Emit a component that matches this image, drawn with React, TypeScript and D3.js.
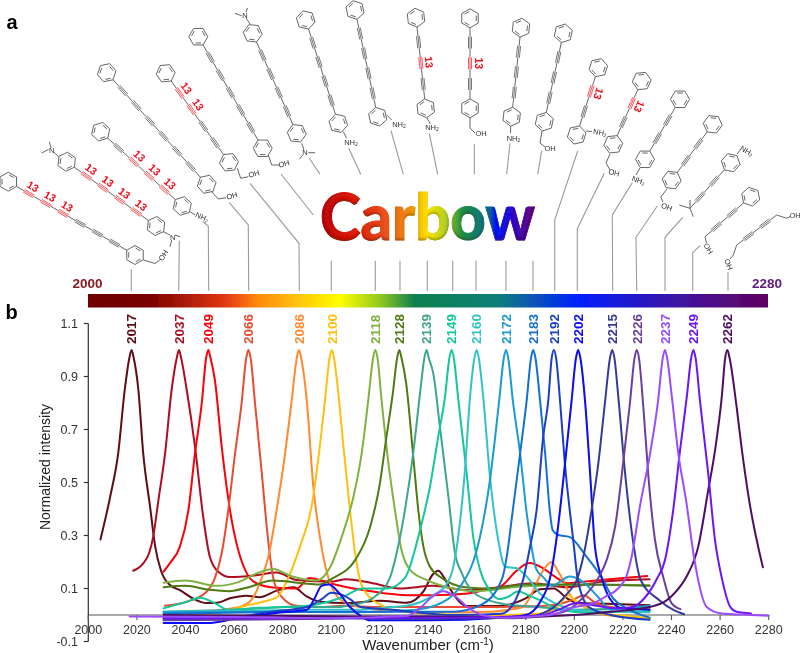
import React from "react";
import * as d3 from "d3";

type P = [number, number];

const xTicks = [2000, 2020, 2040, 2060, 2080, 2100, 2120, 2140, 2160, 2180, 2200, 2220, 2240, 2260, 2280];
const yTicks = [-0.1, 0.1, 0.3, 0.5, 0.7, 0.9, 1.1];

const s2017: P[] = [[2005,.285],[2009,.446],[2012.3,.61],[2015,.85],[2016.9,.97],[2017.8,1],[2018.7,.97],[2020.6,.85],[2022.6,.61],[2025.4,.41],[2027.5,.26],[2030,.165],[2033.6,.113],[2037.7,.094],[2043,.063],[2048.7,.045],[2053,.046],[2058.3,.063],[2065,.073],[2070.6,.067],[2077.5,.092],[2084.4,.105],[2090,.069],[2095.4,.05],[2106,.045],[2120,.054],[2131,.046],[2138,.09],[2141.5,.15],[2144,.167],[2146.5,.14],[2148.8,.1],[2155.7,.034],[2169,.034],[2180,.063],[2186,.097],[2191.5,.1],[2197,.063],[2201,.046],[2213.4,.042],[2231,.037]];
const s2037: P[] = [[2018.5,.167],[2022.6,.195],[2025,.233],[2026.7,.295],[2028.8,.43],[2031.6,.61],[2034.3,.85],[2036.4,.97],[2037.3,1],[2038.2,.97],[2040.5,.85],[2043.9,.635],[2047.3,.37],[2050,.22],[2053.5,.163],[2058.3,.143],[2069,.15],[2077.5,.16],[2085.8,.132],[2099.5,.126],[2106.3,.135],[2117,.12],[2128,.1],[2142,.11],[2156,.094],[2169,.105],[2183,.12],[2197,.105],[2211,.125],[2231,.135]];
const s2049: P[] = [[2030.9,.163],[2033.6,.196],[2037.7,.258],[2041.2,.396],[2043.9,.61],[2046.7,.8],[2048.5,.97],[2049.4,1],[2050.3,.97],[2052.1,.886],[2054.9,.635],[2058.3,.396],[2061.7,.245],[2065.2,.158],[2068,.126],[2075,.105],[2085.8,.1],[2091,.14],[2094,.135],[2099.5,.12],[2113,.094],[2131,.075],[2142,.075],[2155,.08],[2162,.092],[2170,.11],[2176,.165],[2181.6,.196],[2187,.177],[2192,.145],[2197,.12],[2203,.125],[2211,.132],[2230,.147]];
const s2066: P[] = [[2031.5,.035],[2040.5,.05],[2048.7,.088],[2052.1,.14],[2054.9,.233],[2057.6,.396],[2060.4,.61],[2063.1,.8],[2065,.97],[2065.9,1],[2066.8,.97],[2068.6,.8],[2071.4,.535],[2074,.283],[2076.1,.14],[2078,.09],[2081,.055],[2085.8,.035],[2095,.03],[2105,.035],[2120,.03],[2140,.03],[2160,.03],[2180,.032],[2193,.04],[2200,.06],[2204,.075],[2208,.05],[2215,.03],[2231,.022]];
const s2086: P[] = [[2031,.003],[2045,.006],[2054,.018],[2062,.03],[2067,.055],[2071.4,.14],[2074.1,.22],[2077.5,.396],[2081,.61],[2083.7,.81],[2085.8,.97],[2086.7,1],[2087.6,.97],[2089.9,.81],[2092.6,.484],[2095.3,.295],[2098.8,.14],[2101,.09],[2105,.05],[2112,.03],[2125,.015],[2145,.01],[2165,.012],[2173,.02],[2178.8,.03],[2183,.09],[2186,.15],[2190.7,.2],[2193,.17],[2195.5,.13],[2198,.08],[2201,.045],[2205,.03],[2213,.0],[2231,-.012]];
const s2100: P[] = [[2031,.002],[2050,.004],[2060,.022],[2065,.036],[2072,.05],[2078,.07],[2082.3,.14],[2087.1,.258],[2091.9,.41],[2094.6,.585],[2097.4,.81],[2099.3,.97],[2100.2,1],[2101.1,.97],[2102.9,.835],[2105,.635],[2107.7,.396],[2109.8,.234],[2111.8,.132],[2115,.075],[2120,.04],[2125,.02],[2140,.005],[2165,.0],[2185,.005],[2193,.03],[2197.5,.075],[2201,.05],[2208,.01],[2220,-.002],[2231,-.012]];
const s2118: P[] = [[2031,.122],[2040,.13],[2053,.11],[2062,.125],[2070,.16],[2076,.174],[2084,.145],[2094,.13],[2099.5,.18],[2104.3,.295],[2109.1,.446],[2112.5,.61],[2115.2,.81],[2117.2,.97],[2118.1,1],[2119,.97],[2120.7,.81],[2123.5,.573],[2126.2,.396],[2128.9,.245],[2132.4,.17],[2138.5,.135],[2150,.1],[2160,.09],[2175,.105],[2190,.112],[2210,.115],[2231,.112]];
const s2128: P[] = [[2031,.105],[2040,.11],[2050,.095],[2058,.09],[2066,.105],[2076,.13],[2088,.12],[2095,.115],[2100.8,.14],[2109.8,.207],[2116,.333],[2120,.497],[2122.5,.66],[2125.3,.835],[2127.1,.97],[2128,1],[2128.9,.97],[2130.8,.875],[2133.7,.6],[2135.8,.396],[2137.9,.258],[2140.6,.182],[2145.4,.14],[2155,.105],[2165,.1],[2180,.115],[2200,.115],[2231,.11]];
const s2139: P[] = [[2031,.012],[2060,.02],[2085,.03],[2100,.03],[2110,.04],[2118,.07],[2124.1,.14],[2126.9,.234],[2130.3,.396],[2133.7,.61],[2136.5,.835],[2138.3,.97],[2139.2,1],[2140.1,.97],[2142,.91],[2144.7,.71],[2148.2,.446],[2150.9,.234],[2153.7,.158],[2158,.09],[2165,.055],[2172,.04],[2185,.03],[2200,.02],[2231,.028]];
const s2149: P[] = [[2031,.025],[2040.5,.05],[2046,.065],[2052,.045],[2057.5,.02],[2070,.027],[2090,.035],[2104,.065],[2113,.1],[2123,.1],[2130.3,.14],[2136.5,.32],[2140.6,.484],[2144,.673],[2146.8,.824],[2148.6,.97],[2149.5,1],[2150.4,.97],[2152.3,.81],[2155.7,.535],[2158.4,.295],[2161.2,.17],[2165,.095],[2169,.06],[2173,.07],[2177,.09],[2181,.075],[2186,.055],[2194,.02],[2205,.01],[2231,.015]];
const s2160: P[] = [[2031,.012],[2060,.015],[2090,.02],[2110,.02],[2125,.03],[2131,.035],[2137,.05],[2142,.075],[2147,.11],[2150.2,.182],[2152.3,.3],[2155,.547],[2157.1,.824],[2158.9,.97],[2159.8,1],[2160.7,.97],[2162.5,.824],[2165.3,.522],[2168.7,.283],[2171.5,.182],[2176,.177],[2180.4,.145],[2186,.08],[2192,.045],[2205,.015],[2231,.01]];
const s2172: P[] = [[2031,.01],[2070,.012],[2110,.01],[2135,.02],[2148,.06],[2155,.135],[2157.1,.17],[2161.2,.295],[2165.3,.51],[2169.1,.81],[2171,.97],[2171.9,1],[2172.8,.97],[2174.7,.81],[2177.7,.61],[2180.4,.385],[2184.5,.17],[2187,.145],[2191,.11],[2194,.125],[2198,.145],[2203.6,.125],[2209.6,.07],[2215,.02],[2226,.03],[2231,.035]];
const s2183: P[] = [[2031,.005],[2070,.01],[2110,.012],[2150,.012],[2162,.04],[2170.4,.14],[2172.2,.22],[2174.7,.396],[2177.7,.61],[2180.4,.81],[2182.2,.97],[2183.1,1],[2184,.97],[2185.9,.81],[2188,.61],[2190,.385],[2191.1,.32],[2193.4,.302],[2198,.295],[2205,.22],[2211,.145],[2216,.063],[2221.6,.025],[2231,-.01]];
const s2192: P[] = [[2031,-.018],[2060,-.008],[2075,.012],[2090,.03],[2096,.06],[2100,.084],[2104,.078],[2108,.058],[2112,.03],[2125,.02],[2150,.0],[2170,.005],[2176,.06],[2179,.135],[2181.8,.258],[2184.5,.396],[2187.2,.673],[2189.3,.81],[2190.7,.97],[2191.6,1],[2192.5,.97],[2194.2,.8],[2196,.585],[2199.6,.28],[2201.5,.13],[2206,.03],[2215,.0],[2231,-.018]];
const s2202: P[] = [[2031,-.03],[2050,-.03],[2060,-.015],[2070,.0],[2080,.01],[2090,.02],[2093,.06],[2096,.11],[2099,.115],[2103,.085],[2107.7,.03],[2112,-.003],[2116,-.02],[2140,-.02],[2170,-.01],[2180,.0],[2186,.05],[2190.7,.17],[2193.5,.347],[2196.2,.573],[2198.9,.81],[2200.7,.97],[2201.6,1],[2202.5,.97],[2204.4,.81],[2206.5,.535],[2208.5,.258],[2211.3,.14],[2216,.045],[2220,.025],[2231,.02]];
const s2215: P[] = [[2031,-.012],[2090,-.012],[2140,-.015],[2180,-.008],[2190,.02],[2197,.08],[2201,.132],[2203.7,.22],[2207.1,.396],[2209.9,.573],[2212.6,.8],[2214.7,.97],[2215.6,1],[2216.5,.97],[2218.1,.824],[2220.9,.535],[2224.3,.27],[2227.3,.132],[2235,.056],[2240.8,.019],[2245.2,.003]];
const s2226: P[] = [[2031,-.02],[2090,-.015],[2140,-.005],[2175,-.012],[2195,.01],[2203,.06],[2209.9,.14],[2213.3,.207],[2216.8,.333],[2220.1,.573],[2222.9,.8],[2224.8,.97],[2225.7,1],[2226.6,.97],[2228.4,.786],[2230.5,.522],[2233.2,.283],[2236.7,.14],[2240,.045],[2243.7,.022]];
const s2249: P[] = [[2031,-.012],[2090,-.012],[2150,-.01],[2175,-.006],[2187,.0],[2193.5,.02],[2201,.045],[2206,.04],[2218,.025],[2224,.03],[2229,.065],[2233.9,.135],[2237.3,.207],[2240.7,.396],[2243.5,.62],[2246.3,.824],[2248.1,.97],[2249,1],[2249.9,.97],[2251.7,.81],[2255.1,.535],[2257.9,.283],[2260.7,.14],[2264.2,.03],[2266.8,.012],[2272.7,.006]];
const s2262: P[] = [[2031,.0],[2100,-.005],[2170,-.008],[2200,.0],[2215,.012],[2231,.03],[2238,.055],[2242,.09],[2246.2,.145],[2251,.258],[2255.1,.47],[2257.9,.62],[2260.7,.824],[2262.1,.97],[2263,1],[2263.9,.97],[2266.8,.785],[2269,.62],[2272,.43],[2277.6,.18]];
const s2237: P[] = [[2017,-.006],[2060,-.008],[2100,-.012],[2131,-.004],[2137,.03],[2141,.065],[2146,.09],[2151,.07],[2156,.03],[2162,.0],[2170,-.01],[2190,.0],[2200,.03],[2208,.045],[2213,.07],[2218,.1],[2221.6,.15],[2223.6,.22],[2227,.41],[2231.2,.61],[2234.5,.81],[2236.4,.97],[2237.3,1],[2238.2,.97],[2240,.835],[2242.8,.61],[2246.2,.42],[2249,.234],[2250.8,.14],[2254.5,.03],[2260,.007],[2273,.0],[2280,-.003]];

const peakLabels = ["2017","2037","2049","2066","2086","2100","2118","2128","2139","2149","2160","2172","2183","2192","2202","2215","2226","2237","2249","2262"];
const peakColors = ["#5e0a14","#ad0f22","#f80008","#e84c30","#ff8a30","#ffc010","#7fb23f","#4f7a12","#3fa58e","#12c79a","#33c3c6","#1a9bd0","#1670d0","#1c3fc4","#0808f5","#353a98","#6b3f9e","#9a4dff","#6a14f5","#4e0c60"];
const peakSeries = [s2017,s2037,s2049,s2066,s2086,s2100,s2118,s2128,s2139,s2149,s2160,s2172,s2183,s2192,s2202,s2215,s2226,s2237,s2249,s2262];

const drawOrder = [0,1,2,3,4,5,6,7,8,9,10,11,12,13,14,15,16,19,18,17];

const barStops: [number,string][] = [[0,"#6e0000"],[.09,"#7a0000"],[.2,"#e03612"],[.25,"#ff8a10"],[.37,"#ffff00"],[.43,"#90c820"],[.48,"#108050"],[.6,"#108078"],[.72,"#0020ff"],[.9,"#4a1090"],[1,"#5e0060"]];
const wordStops: [number,string][] = [[0,"#b80c08"],[.16,"#dd1c0c"],[.3,"#ea5020"],[.42,"#f09010"],[.5,"#ffe400"],[.58,"#b8d020"],[.66,"#209040"],[.79,"#0c6a90"],[.815,"#0018f0"],[.89,"#2a10d0"],[.94,"#4a10a0"],[1,"#640080"]];

type Mol = { a: P; b: P; ra: number; rb: number; n: number; lab: number[] };
const molecules: Mol[] = [
  {a:[8.3,181.7],b:[135,255],ra:9.5,rb:9.5,n:6,lab:[0,1,2]},
  {a:[66.7,161.7],b:[156,226],ra:9.5,rb:9.5,n:4,lab:[0,1,2,3]},
  {a:[100.7,131.7],b:[182.3,206],ra:9.5,rb:9.5,n:4,lab:[1,2,3]},
  {a:[106.7,72.7],b:[206.7,184.3],ra:9.5,rb:9.5,n:6,lab:[]},
  {a:[165.7,73.3],b:[229,162.3],ra:9.5,rb:9.5,n:4,lab:[0,1]},
  {a:[198.3,36.7],b:[262.7,148.3],ra:9.5,rb:9.5,n:5,lab:[]},
  {a:[252.7,33.3],b:[296.7,133.3],ra:9.5,rb:9.5,n:4,lab:[]},
  {a:[305.7,20],b:[338.3,123.3],ra:9.5,rb:9.5,n:4,lab:[]},
  {a:[355,10],b:[377.7,116.7],ra:9.5,rb:9.5,n:4,lab:[]},
  {a:[416,17.7],b:[425.7,108.3],ra:9.5,rb:9.5,n:3,lab:[1]},
  {a:[470,18.3],b:[470,108.3],ra:9.5,rb:9.5,n:3,lab:[1]},
  {a:[521,27.7],b:[511.7,116.7],ra:9.5,rb:9.5,n:3,lab:[]},
  {a:[563.3,33.3],b:[544.3,121.7],ra:9.5,rb:9.5,n:3,lab:[]},
  {a:[598.3,67.7],b:[576.7,135],ra:9.5,rb:9.5,n:2,lab:[0]},
  {a:[641.7,81],b:[613.3,144.3],ra:9.5,rb:9.5,n:2,lab:[0]},
  {a:[680,99.3],b:[645,159.3],ra:9.5,rb:9.5,n:2,lab:[]},
  {a:[712.7,124.3],b:[671.7,180],ra:9.5,rb:9.5,n:2,lab:[]},
  {a:[730.7,162.7],b:[690,208.3],ra:9.5,rb:0,n:2,lab:[]},
  {a:[750.7,196.7],b:[705,236.7],ra:9.5,rb:0,n:2,lab:[]},
  {a:[776.7,215],b:[736.7,245],ra:0,rb:0,n:2,lab:[]},
];

const molBonds: P[][] = [
  [[143.5,260],[155,263.5],[161,259]],
  [[58.7,156.7],[53.5,152]],[[41.7,153],[48.7,149.3]],[[49.3,141.7],[51,148]],
  [[163.3,231.7],[170,235]],[[175,235],[180,236.7]],[[171.7,240],[170,246.7]],
  [[190,211.7],[195,215]],
  [[211.7,191.7],[218.3,199],[226,197.7]],
  [[237.3,168.3],[240.7,178.3],[248.3,176.7]],
  [[268.3,155],[271.7,165],[279.3,165]],
  [[250,24],[246,18]],[[235,13.3],[241.7,15.7]],[[247.5,8],[246,12.5]],
  [[301.7,143.3],[304,150]],[[308.3,152.7],[315,152.7]],[[302.7,155],[299.3,159.3]],
  [[343.3,131.7],[346.7,138.3]],
  [[386.7,115],[391.7,120]],
  [[427,118],[430.5,124]],
  [[470,118],[470,128],[475,133]],
  [[510.7,126],[510.5,133]],
  [[542,131],[540,143],[545,147]],
  [[586,131],[592,131.5]],
  [[610,154],[606,163],[610,170]],
  [[640,168],[636,175]],
  [[667,189],[660.7,197],[663,202]],
  [[737,154],[741,149]],[[679.3,205],[690,208.3]],[[690,200],[690,208.3]],[[693.3,216.7],[690,208.3]],
  [[705,236.7],[706.5,243]],
  [[776.7,215],[786.7,218.3],[790.5,216.5]],
  [[736.7,245],[733.3,255],[730,259]],
];

const molTexts: [string,number,number,number][] = [
  ["OH",163.5,255.5,-60],["N",51.7,150,0],["N",172.6,237.3,0],["NH2",202,217,25],["OH",232,196,-15],
  ["OH",254,174,-15],["OH",284,164,-15],["N",245,15,0],["N",305,152.7,0],["NH2",351,142,0],
  ["NH2",399,124,0],["NH2",432,127,0],["OH",481,133.5,0],["NH2",513.5,138,0],["OH",550,148,0],
  ["NH2",600,132.5,10],["OH",614,172.7,15],["NH2",638.5,180.5,20],["OH",666.7,207,20],["NH2",746.7,151,30],
  ["OH",708.3,248.5,60],["OH",795,215,0],["OH",728.5,264.5,70],
];

const leaders: P[][] = [
  [[131.3,269.3],[131.3,290.7]],[[179.3,240.7],[178.7,290.7]],[[203,221.7],[208.3,226],[208.7,290.7]],
  [[229.3,202.7],[248.3,225],[248.7,290.7]],[[250,183.3],[299,243.3],[299.3,290.7]],
  [[281,174],[313.3,215]],[[331.3,260.7],[331.3,290.7]],[[309.3,158.3],[320,174.3]],[[375.3,260.7],[375.3,290.7]],
  [[348.7,148.3],[360.7,174.3]],[[400,260.7],[400,290.7]],[[391,130.7],[403.3,174.3]],[[427.3,260.7],[427.3,290.7]],
  [[429.3,133.3],[437.7,174.3]],[[452.7,260.7],[452.7,290.7]],[[474.3,144.3],[474.3,174.3]],[[476,260.7],[476,290.7]],
  [[510,143.3],[506.7,174.3]],[[506,260.7],[506,290.7]],[[541.7,150.7],[537.7,174.3]],[[533,260.7],[533,290.7]],
  [[577.7,151],[554.7,220],[554.7,290.7]],[[604.3,173.3],[577.3,228.7],[577.3,290.7]],
  [[632.3,182.7],[612.3,215],[612.7,290.7]],[[657.3,206],[636,237.3],[636.7,290.7]],
  [[682.7,217.3],[665,237.3],[665,290.7]],[[700,245.7],[692.7,252.7],[692.7,290.7]],[[728,272],[728,290.7]],
];

const W = 800, H = 653;
const x = d3.scaleLinear().domain([2000, 2280]).range([88.3, 768.7]);
const y = d3.scaleLinear().domain([-0.1, 1.1]).range([641.5, 323.5]);
const line = d3.line<P>().x((d) => x(d[0])).y((d) => y(d[1])).curve(d3.curveMonotoneX);
const seg = d3.line<P>();
const SANS = "'Liberation Sans', Arial, sans-serif";
const GREY = "#555";

function Ring({ c, u, r }: { c: P; u: P; r: number }) {
  const base = Math.atan2(u[1], u[0]);
  const pts: P[] = d3.range(6).map((i) => {
    const t = base + (i * Math.PI) / 3;
    return [c[0] + r * Math.cos(t), c[1] + r * Math.sin(t)] as P;
  });
  const closed = [...pts, pts[0]];
  const inner = [0, 2, 4].map((i) => {
    const p = pts[i], q = pts[(i + 1) % 6];
    const k = 0.76;
    const f = (v: P): P => [c[0] + (v[0] - c[0]) * k, c[1] + (v[1] - c[1]) * k];
    const a = f(p), b = f(q);
    return [[a[0] + (b[0] - a[0]) * 0.12, a[1] + (b[1] - a[1]) * 0.12], [b[0] - (b[0] - a[0]) * 0.12, b[1] - (b[1] - a[1]) * 0.12]] as P[];
  });
  return (
    <g fill="none" stroke={GREY} strokeWidth={0.9}>
      <path d={seg(closed) || ""} />
      {inner.map((l, i) => <path key={i} d={seg(l) || ""} />)}
    </g>
  );
}

function Molecule({ m }: { m: Mol }) {
  const dx = m.b[0] - m.a[0], dy = m.b[1] - m.a[1];
  const len = Math.hypot(dx, dy);
  const u: P = [dx / len, dy / len];
  const nrm: P = [u[1], -u[0]];
  const L = len - m.ra - m.rb;
  const tripleLen = L / (m.n * 1.75 + 0.75);
  const single = tripleLen * 0.75;
  const at = (d: number, off = 0): P => [
    m.a[0] + u[0] * (m.ra + d) + nrm[0] * off,
    m.a[1] + u[1] * (m.ra + d) + nrm[1] * off,
  ];
  const rot = (Math.atan2(u[1], u[0]) * 180) / Math.PI;
  const parts: React.ReactNode[] = [];
  for (let i = 0; i < m.n; i++) {
    const s = single + i * (tripleLen + single);
    const e = s + tripleLen;
    const red = m.lab.includes(i);
    const col = red ? "#f03038" : GREY;
    parts.push(<path key={"s" + i} d={seg([at(s - single), at(s)]) || ""} stroke={GREY} strokeWidth={0.9} fill="none" />);
    [-1.5, 0, 1.5].forEach((o) => {
      parts.push(<path key={"t" + i + o} d={seg([at(s, o), at(e, o)]) || ""} stroke={col} strokeWidth={0.8} fill="none" />);
    });
    if (red) {
      const p = at((s + e) / 2, 8.5);
      parts.push(
        <text key={"l" + i} x={p[0]} y={p[1]} transform={`rotate(${rot} ${p[0]} ${p[1]})`} textAnchor="middle" dominantBaseline="central"
          fontFamily={SANS} fontWeight={700} fontSize={10.5} fill="#f0101c">13</text>
      );
    }
  }
  parts.push(<path key="last" d={seg([at(L - single), at(L)]) || ""} stroke={GREY} strokeWidth={0.9} fill="none" />);
  return (
    <g>
      {m.ra > 0 && <Ring c={m.a} u={u} r={m.ra} />}
      {m.rb > 0 && <Ring c={m.b} u={u} r={m.rb} />}
      {parts}
    </g>
  );
}

export default function App() {
  return (
    <svg width={W} height={H} viewBox={`0 0 ${W} ${H}`} style={{ position: "absolute", left: 0, top: 0, background: "#fff" }}>
      <defs>
        <linearGradient id="bar" x1="0" x2="1" y1="0" y2="0">
          {barStops.map(([o, c]) => <stop key={o} offset={o} stopColor={c} />)}
        </linearGradient>
        <linearGradient id="word" gradientUnits="userSpaceOnUse" x1={320} x2={535} y1={0} y2={0}>
          {wordStops.map(([o, c]) => <stop key={o} offset={o} stopColor={c} />)}
        </linearGradient>
        <filter id="soft" filterUnits="userSpaceOnUse" x={0} y={0} width={W} height={H}>
          <feGaussianBlur stdDeviation={0.33} />
        </filter>
        <filter id="bevel" x="-5%" y="-10%" width="110%" height="120%">
          <feGaussianBlur in="SourceAlpha" stdDeviation={1.2} result="b" />
          <feOffset in="b" dy={-1.6} result="o" />
          <feComposite in="SourceAlpha" in2="o" operator="out" result="rim" />
          <feFlood floodColor="#301000" floodOpacity={0.55} />
          <feComposite in2="rim" operator="in" result="shade" />
          <feMerge>
            <feMergeNode in="SourceGraphic" />
            <feMergeNode in="shade" />
          </feMerge>
        </filter>
      </defs>

      <g filter="url(#soft)">
        {leaders.map((l, i) => <path key={i} d={seg(l) || ""} fill="none" stroke="#9a9a9a" strokeWidth={1.1} />)}
        {molecules.map((m, i) => <Molecule key={i} m={m} />)}
        {molBonds.map((l, i) => <path key={i} d={seg(l) || ""} fill="none" stroke={GREY} strokeWidth={0.9} />)}
        {molTexts.map(([t, px, py, r], i) => (
          <text key={i} x={px} y={py} transform={`rotate(${r} ${px} ${py})`} textAnchor="middle" dominantBaseline="central"
            fontFamily={SANS} fontSize={7.5} fill="#333">
            {t.startsWith("NH") ? <>NH<tspan fontSize={5} dy={1.5}>2</tspan></> : t}
          </text>
        ))}

        <text x={6.5} y={29} fontFamily={SANS} fontWeight={700} fontSize={20} fill="#000">a</text>
        <text x={5.5} y={319} fontFamily={SANS} fontWeight={700} fontSize={20} fill="#000">b</text>

        <text x={427.5} y={240} textAnchor="middle" fontFamily="Lato, sans-serif" fontWeight={900} fontSize={64}
          textLength={215} lengthAdjust="spacingAndGlyphs" fill="url(#word)" stroke="url(#word)" strokeWidth={0.8} filter="url(#bevel)">Carbow</text>

        <text x={87.5} y={288} textAnchor="middle" fontFamily={SANS} fontWeight={700} fontSize={13.5} fill="#8b1a24">2000</text>
        <text x={767} y={288} textAnchor="middle" fontFamily={SANS} fontWeight={700} fontSize={13.5} fill="#5e1a7e">2280</text>
        <rect x={88} y={294} width={680} height={13.5} fill="url(#bar)" />

        <g>
          <path d={`M${x(2000)},${y(0)}H${x(2280)}`} stroke="#555" strokeWidth={1.2} fill="none" />
          <path d={`M${x(2000)},${y(1.1)}V${y(-0.1)}`} stroke="#333" strokeWidth={1.2} fill="none" />
          {yTicks.map((t) => (
            <g key={t}>
              <path d={`M${x(2000) - 4.5},${y(t)}H${x(2000)}`} stroke="#333" strokeWidth={1.2} />
              <text x={78} y={y(t)} dy="0.36em" textAnchor="end" fontFamily={SANS} fontSize={12.5} fill="#333">{t.toFixed(1)}</text>
            </g>
          ))}
          {xTicks.map((t) => (
            <g key={t}>
              <path d={`M${x(t)},${y(0)}v5`} stroke="#555" strokeWidth={1.1} />
              <text x={x(t)} y={634} textAnchor="middle" fontFamily={SANS} fontSize={12.5} fill="#333">{t}</text>
            </g>
          ))}
          <text transform={`translate(50,467) rotate(-90)`} textAnchor="middle" fontFamily={SANS} fontSize={14} fill="#222">Normalized intensity</text>
          <text x={428} y={650} textAnchor="middle" fontFamily={SANS} fontSize={15} fill="#222">
            Wavenumber (cm<tspan fontSize={10} dy={-5}>-1</tspan><tspan dy={5}>)</tspan>
          </text>
        </g>

        <g fill="none" strokeWidth={2} strokeLinejoin="round" strokeLinecap="round">
          {drawOrder.map((i) => <path key={i} d={line(peakSeries[i]) || ""} stroke={peakColors[i]} />)}
        </g>

        {peakLabels.map((l, i) => {
          const top = peakSeries[i].reduce((a, b) => (b[1] > a[1] ? b : a));
          const px = x(top[0]);
          return (
            <text key={l} transform={`translate(${px + 4.8},344) rotate(-90)`} fontFamily={SANS} fontWeight={700} fontSize={13.5} fill={peakColors[i]}>{l}</text>
          );
        })}
      </g>
    </svg>
  );
}
